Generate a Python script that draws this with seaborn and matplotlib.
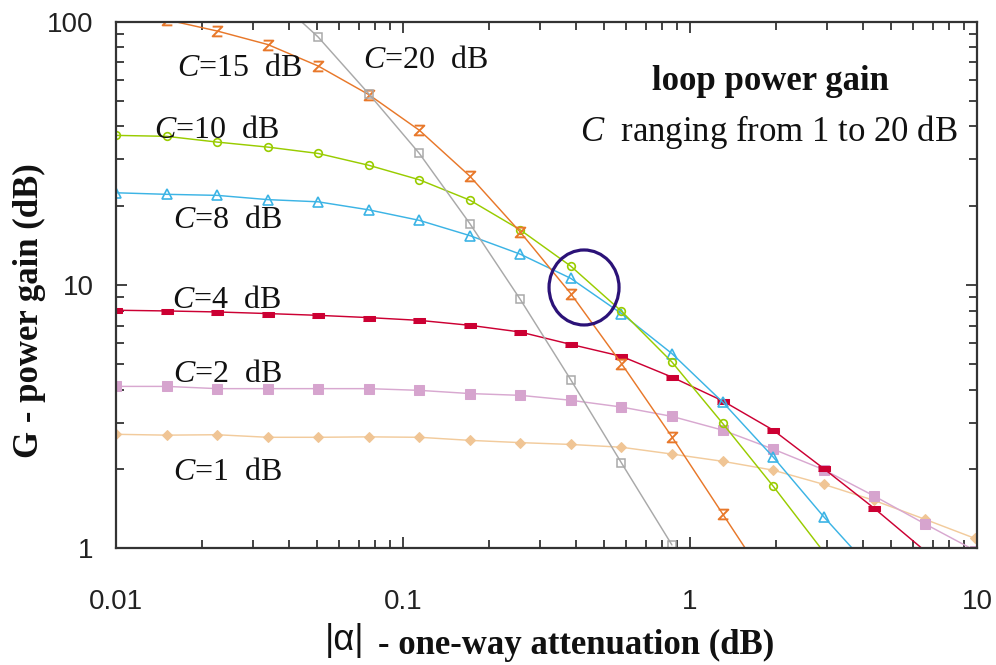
import numpy as np
import pandas as pd
import seaborn as sns
import matplotlib
matplotlib.use("Agg")
import matplotlib.pyplot as plt
from matplotlib.patches import Ellipse
from matplotlib.ticker import FixedLocator, FixedFormatter, LogLocator, NullFormatter

# ---------------- data ----------------
alpha_db = [0.01, 0.015, 0.0225, 0.0338, 0.0506, 0.0759, 0.114, 0.171, 0.256,
            0.384, 0.577, 0.865, 1.30, 1.95, 2.92, 4.38, 6.57, 9.85]

g_c1 = [2.71, 2.69, 2.70, 2.64, 2.64, 2.65, 2.64, 2.57, 2.52, 2.48, 2.42, 2.28,
        2.14, 1.98, 1.75, 1.52, 1.29, 1.09]
g_c2 = [4.12, 4.12, 4.04, 4.04, 4.04, 4.04, 3.98, 3.87, 3.81, 3.65, 3.44, 3.17,
        2.81, 2.38, 1.99, 1.58, 1.24, 0.98]
g_c4 = [8.02, 7.97, 7.90, 7.79, 7.67, 7.52, 7.34, 7.03, 6.63, 5.95, 5.36, 4.47,
        3.63, 2.81, 2.01, 1.42, 0.98]
g_c8 = [22.4, 22.1, 21.9, 21.1, 20.7, 19.3, 17.6, 15.4, 13.1, 10.6, 7.79, 5.49,
        3.59, 2.22, 1.32, 0.81]
g_c10 = [37.0, 36.7, 34.9, 33.4, 31.6, 28.5, 25.1, 21.0, 16.2, 11.8, 7.95, 5.10,
         2.98, 1.72, 0.97]
g_c15 = [110.0, 101.7, 92.2, 81.9, 67.9, 52.9, 38.7, 25.9, 15.9, 9.28, 5.03, 2.65,
         1.35, 0.69]
g_c20 = [131.0, 87.5, 53.3, 31.6, 17.1, 8.83, 4.37, 2.11, 1.03]   # starts at 4th alpha
c20_start = 3

x_ticks = [0.01, 0.1, 1, 10]
x_tick_labels = ["0.01", "0.1", "1", "10"]
y_ticks = [1, 10, 100]
y_tick_labels = ["1", "10", "100"]

curve_labels = ["15", "20", "10", "8", "4", "2", "1"]

# ---------------- styling ----------------
sns.set_theme(style="ticks")
plt.rcParams["font.family"] = ["Liberation Serif", "DejaVu Serif"]
plt.rcParams["mathtext.fontset"] = "custom"
plt.rcParams["mathtext.rm"] = "Liberation Serif"
plt.rcParams["mathtext.it"] = "Liberation Serif:italic"
plt.rcParams["mathtext.bf"] = "Liberation Serif:bold"

W, H = 996, 665
fig = plt.figure(figsize=(W / 100, H / 100), dpi=100)
ax_l, ax_r, ax_t, ax_b = 116, 977, 21.7, 548.3
ax = fig.add_axes([ax_l / W, 1 - ax_b / H, (ax_r - ax_l) / W, (ax_b - ax_t) / H])

def px(x, y):
    return x / W, 1 - y / H

series = [
    (g_c1, 0, "#F2CB9C", dict(marker="D", markersize=5, markerfacecolor="#F0C595",
                              markeredgecolor="#F0C595")),
    (g_c2, 0, "#D8A8D0", dict(marker="s", markersize=7, markerfacecolor="#D6A4CE",
                              markeredgecolor="#D6A4CE")),
    (g_c4, 0, "#CC0033", dict(marker=[(-1, -0.45), (1, -0.45), (1, 0.45), (-1, 0.45)],
                              markersize=8, markerfacecolor="#CC0033",
                              markeredgecolor="#CC0033")),
    (g_c8, 0, "#3CB4E5", dict(marker="^", markersize=7, markerfacecolor="none",
                              markeredgecolor="#3CB4E5", markeredgewidth=1.2)),
    (g_c10, 0, "#99CC00", dict(marker="o", markersize=5.5, markerfacecolor="none",
                               markeredgecolor="#99CC00", markeredgewidth=1.2)),
    (g_c15, 0, "#E8782A", dict(marker=[(-1, 1), (1, 1), (-1, -1), (1, -1)],
                               markersize=7, markerfacecolor="none",
                               markeredgecolor="#E8782A", markeredgewidth=1.4)),
    (g_c20, c20_start, "#A9A9A9", dict(marker="s", markersize=5.5, markerfacecolor="none",
                                       markeredgecolor="#A9A9A9", markeredgewidth=1.1)),
]

for vals, start, color, mk in series:
    xs = alpha_db[start:start + len(vals)]
    df = pd.DataFrame({"alpha": xs, "G": vals})
    sns.lineplot(data=df, x="alpha", y="G", ax=ax, color=color, linewidth=1.05,
                 estimator=None, sort=False, **mk)

ax.set_xscale("log")
ax.set_yscale("log")
ax.set_xlim(0.01, 10)
ax.set_ylim(1, 100)
ax.set_xlabel("")
ax.set_ylabel("")

ax.xaxis.set_major_locator(FixedLocator(x_ticks))
ax.xaxis.set_major_formatter(FixedFormatter(x_tick_labels))
ax.yaxis.set_major_locator(FixedLocator(y_ticks))
ax.yaxis.set_major_formatter(FixedFormatter(y_tick_labels))
ax.xaxis.set_minor_locator(LogLocator(base=10, subs=np.arange(2, 10)))
ax.yaxis.set_minor_locator(LogLocator(base=10, subs=np.arange(2, 10)))
ax.xaxis.set_minor_formatter(NullFormatter())
ax.yaxis.set_minor_formatter(NullFormatter())

ax.tick_params(which="both", direction="in", top=True, right=True, color="#222222",
               width=1.2)
ax.tick_params(which="major", length=8)
ax.tick_params(which="minor", length=5.5)
ax.tick_params(axis="x", which="major", pad=29)
ax.tick_params(axis="y", which="major", pad=16)
for lab in ax.get_xticklabels() + ax.get_yticklabels():
    lab.set_fontfamily("Liberation Sans")
    lab.set_fontsize(20)
    lab.set_color("#222222")
for sp in ax.spines.values():
    sp.set_linewidth(1.6)
    sp.set_color("#333333")
ax.set_facecolor("white")

# ellipse annotation
ax.add_patch(Ellipse((0.5436, 0.4953), 0.0813, 0.1424, transform=ax.transAxes,
                     fill=False, edgecolor="#2B1278", linewidth=2.3, zorder=5))

# curve labels (left x, center y in pixels)
label_pos = [(177, 68), (363, 60), (154, 130), (173, 220), (172, 300), (173, 374),
             (173, 473)]
for txt, (lx, ly) in zip(curve_labels, label_pos):
    fig.text(*px(lx, ly), r"$C$=" + txt + "  dB", fontsize=23, ha="left",
             va="center", color="#111111")

fig.text(*px(770, 82), "loop power gain", fontsize=25, fontweight="bold",
         ha="center", va="center", color="#111111")
fig.text(*px(769, 132), r"$C$  ranging from 1 to 20 dB", fontsize=25,
         ha="center", va="center", color="#111111")

# axis labels
fig.text(*px(29, 311), "G - power gain (dB)", fontsize=25, fontweight="bold",
         rotation=90, ha="center", va="center", color="#111111")
fig.text(*px(345, 640), "|α|", fontsize=26, family="Liberation Sans",
         ha="center", va="center", color="#111111")
fig.text(*px(378, 645), "- one-way attenuation (dB)", fontsize=25, fontweight="bold",
         ha="left", va="center", color="#111111")

fig.savefig("out.png", dpi=100, facecolor="white")
